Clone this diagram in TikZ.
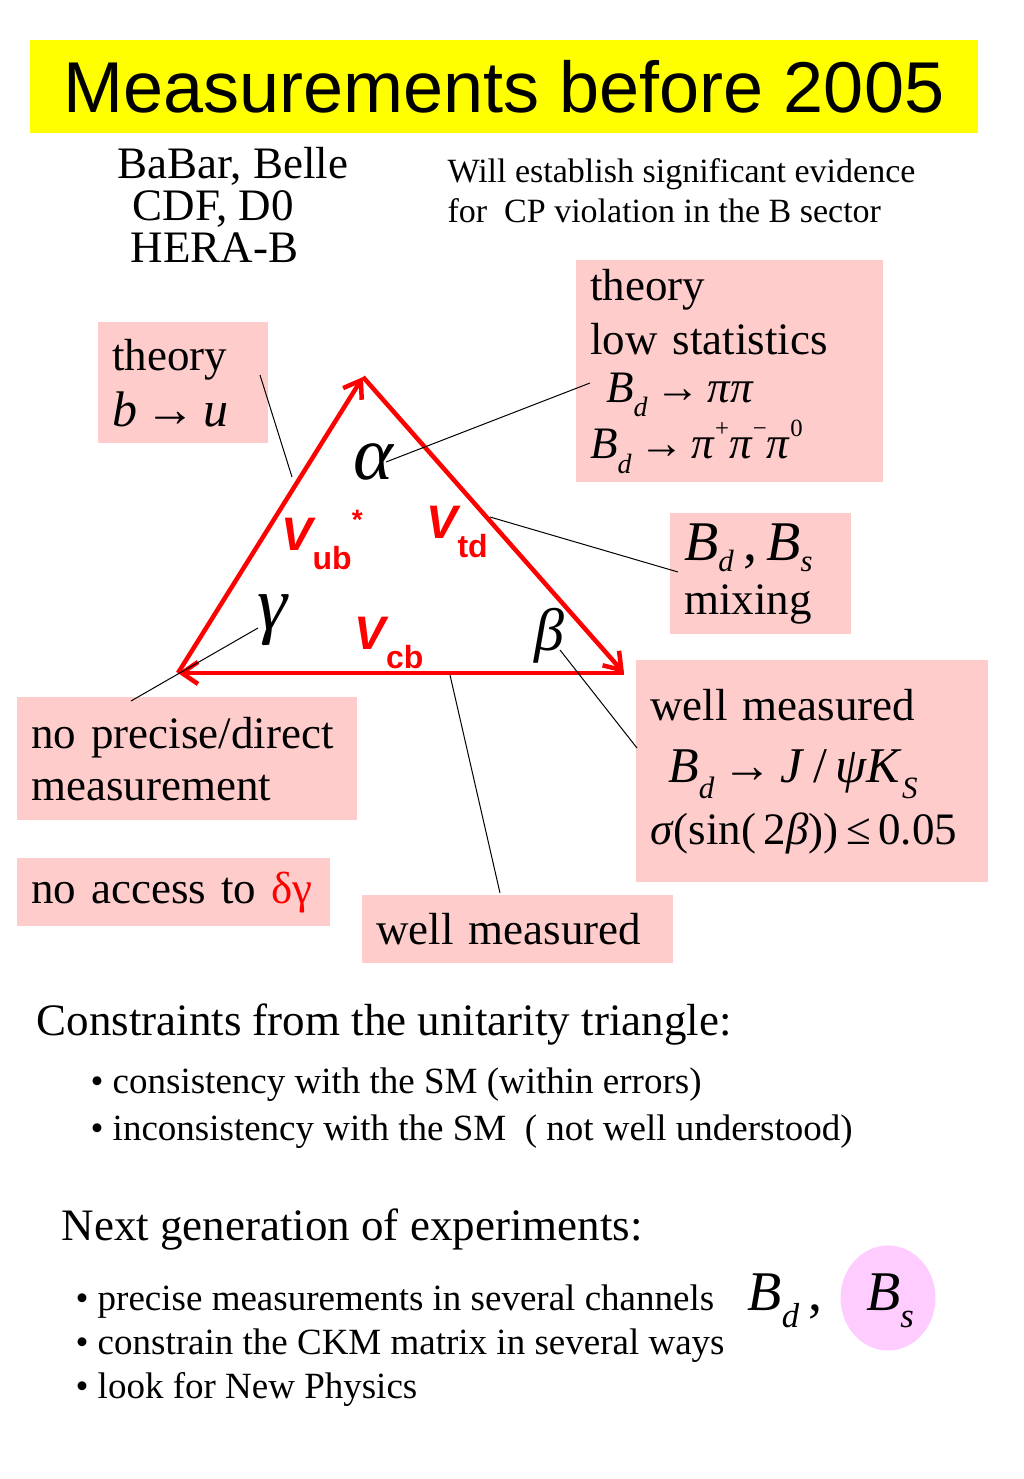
\documentclass[tikz,border=0pt]{standalone}
\usepackage{fontspec}
\usepackage{graphicx}
\setmainfont{Liberation Serif}
\newfontfamily\headfont{Liberation Sans}
\newfontfamily\vfont{Liberation Sans}
\usetikzlibrary{arrows.meta,shapes.geometric,positioning}
\definecolor{boxpink}{RGB}{255,204,204}
\definecolor{ovalpink}{RGB}{255,204,255}
\definecolor{slideyellow}{RGB}{255,255,0}
\tikzset{
    %Define standard arrow tip
    >={Straight Barb[length=16pt,width=22pt]},
    %Define style for boxes
    banner/.style={
           rectangle,
           fill=slideyellow,
           minimum width=948pt,
           minimum height=93pt,
           font=\headfont\fontsize{72}{72}\selectfont},
    note/.style={
           rectangle,
           fill=boxpink,
           anchor=north west,
           inner xsep=14pt,
           inner ysep=4pt,
           align=left,
           font=\fontsize{45}{52}\selectfont},
    plain/.style={
           font=\fontsize{45}{42}\selectfont},
    small/.style={
           font=\fontsize{34}{40}\selectfont},
    bigline/.style={
           anchor=base west,
           font=\fontsize{45}{45}\selectfont},
    bullet/.style={
           anchor=base west,
           font=\fontsize{37}{37}\selectfont},
    anglab/.style={
           font=\itshape\fontsize{76}{76}\selectfont},
    ckmlab/.style={
           text=red,
           font=\vfont\bfseries\itshape\fontsize{47}{47}\selectfont},
    oval/.style={
           ellipse,
           fill=ovalpink,
           minimum width=95pt,
           minimum height=105pt},
    % Define arrow style
    side/.style={
           ->,
           draw=red,
           line width=4.5pt},
    lead/.style={
           draw=black,
           line width=1pt}
}
\newcommand{\lowidx}[1]{\raisebox{-.32em}{\scalebox{.62}{\itshape #1}}}
\newcommand{\upidx}[1]{\raisebox{.5em}{\scalebox{.55}{#1}}}
\newcommand{\ckm}[1]{V\raisebox{-.42em}{\upshape\fontsize{32}{32}\selectfont #1}}

\begin{document}
\begin{tikzpicture}[x=1pt,y=-1pt]
\useasboundingbox (0,0) rectangle (1024,1479);
 %title and header
\node[banner](ttl) at (504,86.5){Measurements before 2005};
\node[plain, align=left, anchor=north west](expts) at (114,144){BaBar, Belle\\\hspace*{15pt}CDF, D0\\\hspace*{13pt}HERA-B};
\node[small, align=left, anchor=north west](aim) at (444,155){Will establish significant evidence\\for\ \ CP violation in the B sector};
 %triangle
\coordinate (A) at (363,377);
\coordinate (G) at (178,673);
\coordinate (Bt) at (624,673);
\draw[side] (G) -- (A);
\draw[side] (A) -- (Bt);
\draw[side] (Bt) -- (G);
\node[anglab](alpha) at (373,462){α};
\node[anglab](gamma) at (272,620){γ};
\node[anglab, font=\itshape\fontsize{60}{60}\selectfont](beta) at (549,636){β};
\node[ckmlab](vub) at (322,540){\ckm{ub}\raisebox{.45em}{\upshape\fontsize{28}{28}\selectfont *}};
\node[ckmlab](vtd) at (457,532){\ckm{td}};
\node[ckmlab](vcb) at (389,643){\ckm{cb}};
 %boxes
\node[note, minimum width=170pt, minimum height=121pt, text width=142pt](bu) at (98,322){theory\\[4pt]{\fontsize{50}{50}\selectfont\textit{b}\,→\,\textit{u}}};
\node[note, minimum width=307pt, minimum height=222pt, text width=279pt](pipi) at (576,260){theory\\[2pt]low statistics\\[-4pt]\hspace*{16pt}\textit{B}\lowidx{d}\,→\,\textit{ππ}\\[2pt]\textit{B}\lowidx{d}\,→\,\textit{π}\upidx{+}\textit{π}\upidx{−}\textit{π}\upidx{0}};
\node[note, minimum width=181pt, minimum height=121pt, text width=153pt](mix) at (670,513){{\fontsize{56}{56}\selectfont\textit{B}\raisebox{-.2em}{\scalebox{.55}{\itshape d}}\,,\,\textit{B}\raisebox{-.2em}{\scalebox{.55}{\itshape s}}}\\[2pt]mixing};
\node[note, minimum width=352pt, minimum height=222pt, text width=324pt](psik) at (636,660){well measured\\[10pt]\hspace*{18pt}{\fontsize{50}{50}\selectfont\textit{B}\lowidx{d}\,→\,\textit{J}\,/\,\textit{ψK}\lowidx{S}}\\[10pt]\textit{σ}(sin(\,2\textit{β}))\,≤\,0.05};
\node[note, minimum width=340pt, minimum height=123pt, text width=312pt](nodir) at (17,697){no precise/direct\\measurement};
\node[note, minimum width=313pt, minimum height=68pt, text width=285pt](noacc) at (17,858){no access to \textcolor{red}{δγ}};
\node[note, minimum width=311pt, minimum height=68pt, text width=283pt](wellm) at (362,895){well measured};
 %leads
\coordinate (bu end) at (260,375);
\coordinate (ub end) at (292,477);
\coordinate (al end) at (386,462);
\coordinate (pi end) at (590,383);
\coordinate (td end) at (490,517);
\coordinate (mx end) at (678,572);
\coordinate (ga end) at (258,628);
\coordinate (nd end) at (131,701);
\coordinate (be end) at (560,650);
\coordinate (ps end) at (637,748);
\coordinate (cb end) at (450,675);
\coordinate (wm end) at (500,893);
\draw[lead] (bu end) -- (ub end);
\draw[lead] (al end) -- (pi end);
\draw[lead] (td end) -- (mx end);
\draw[lead] (ga end) -- (nd end);
\draw[lead] (be end) -- (ps end);
\draw[lead] (cb end) -- (wm end);
 %lower text
\node[bigline](cons) at (33,1035){Constraints from the unitarity triangle:};
\node[bullet](cons1) at (87,1093){• consistency with the SM (within errors)};
\node[bullet](cons2) at (87,1140){• inconsistency with the SM\ \ ( not well understood)};
\node[bigline](next) at (58,1240){Next generation of experiments:};
\node[bullet](next1) at (72,1310){• precise measurements in several channels};
\node[bullet, font=\fontsize{56}{56}\selectfont](bd) at (744,1310){\textit{B}\lowidx{d}\,,};
\node[oval](bs) at (888,1298){};
\node[font=\fontsize{56}{56}\selectfont, anchor=base] at (890,1310){\textit{B}\lowidx{s}};
\node[bullet](next2) at (72,1354){• constrain the CKM matrix in several ways};
\node[bullet](next3) at (72,1398){• look for New Physics};
\end{tikzpicture}
\end{document}
